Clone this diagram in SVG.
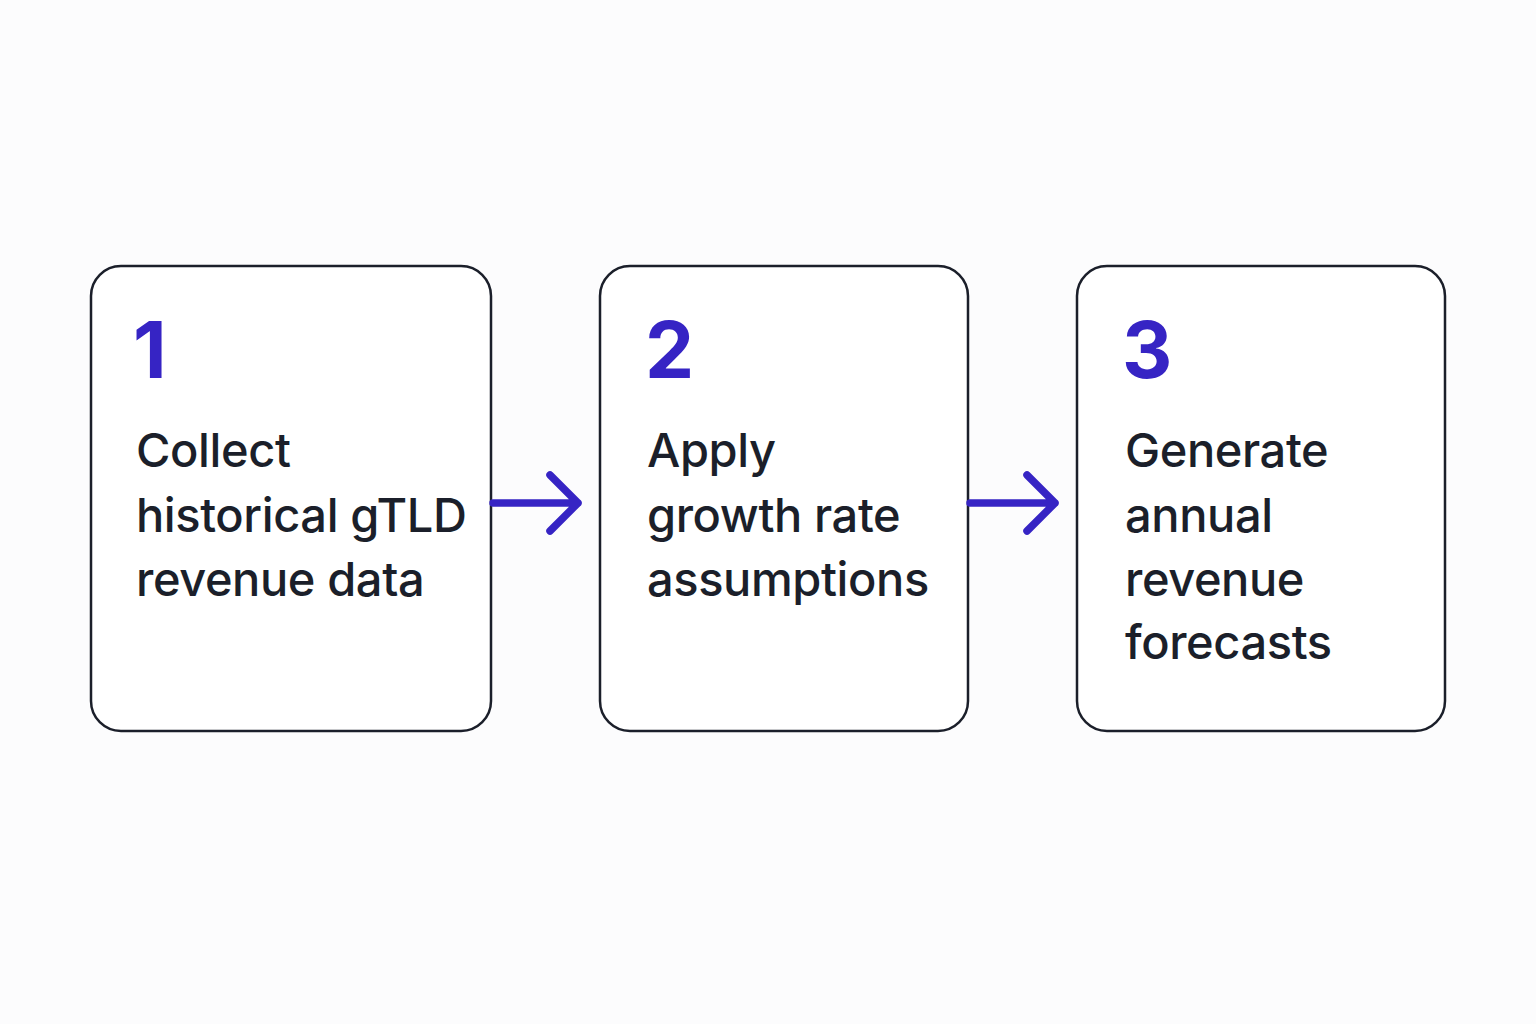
<svg xmlns="http://www.w3.org/2000/svg" width="1536" height="1024" viewBox="0 0 1536 1024">
<style>
.box{fill:#ffffff;stroke:#1b1f2a;stroke-width:2.5}
.num{font-family:Inter,"Liberation Sans",sans-serif;font-weight:700;font-size:78px;fill:#3624c4}
.lbl{font-family:Inter,"Liberation Sans",sans-serif;font-weight:500;font-size:47px;letter-spacing:-0.4px;fill:#1b1f2a}
.conn{fill:none;stroke:#3624c4;stroke-width:7.5;stroke-linecap:round;stroke-linejoin:round}
</style>
<rect width="1536" height="1024" fill="#fcfcfd"/>
<g id="node1">
<rect class="box" x="91" y="266" width="400" height="465" rx="30"/>
<text class="num" x="133" y="378">1</text>
<text class="lbl" x="136" y="467">Collect</text>
<text class="lbl" x="136" y="532">historical gTLD</text>
<text class="lbl" x="136" y="596">revenue data</text>
</g>
<g id="node2">
<rect class="box" x="600" y="266" width="368" height="465" rx="30"/>
<text class="num" x="645" y="378">2</text>
<text class="lbl" x="647" y="467">Apply</text>
<text class="lbl" x="647" y="532">growth rate</text>
<text class="lbl" x="647" y="596">assumptions</text>
</g>
<g id="node3">
<rect class="box" x="1077" y="266" width="368" height="465" rx="30"/>
<text class="num" x="1122" y="378">3</text>
<text class="lbl" x="1125" y="467">Generate</text>
<text class="lbl" x="1125" y="532">annual</text>
<text class="lbl" x="1125" y="596">revenue</text>
<text class="lbl" x="1125" y="659">forecasts</text>
</g>
<g id="connectors">
<path class="conn" d="M493 503 H578 M550 475 L578 503 L550 531"/>
<path class="conn" d="M970 503 H1055 M1027 475 L1055 503 L1027 531"/>
</g>
</svg>
